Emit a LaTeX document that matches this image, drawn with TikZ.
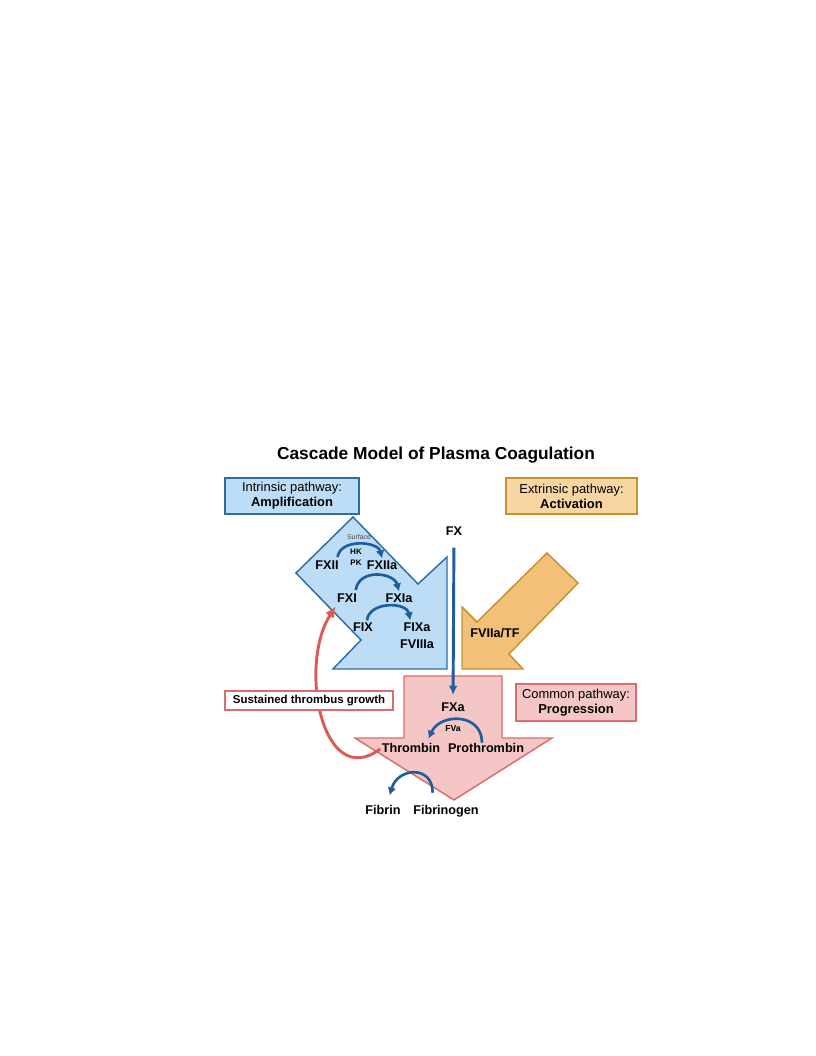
\documentclass[tikz,border=0pt]{standalone}
\usepackage{fontspec}
\setmainfont{Liberation Sans}
\usepackage{tikz}
\usetikzlibrary{arrows.meta}
\definecolor{bluefill}{HTML}{BDDCF5}
\definecolor{blueline}{HTML}{2E6DA4}
\definecolor{orangefill}{HTML}{F2C078}
\definecolor{orangebox}{HTML}{F8D6A4}
\definecolor{orangeline}{HTML}{C8922F}
\definecolor{pinkfill}{HTML}{F4C6C6}
\definecolor{pinkline}{HTML}{DE6B6B}
\definecolor{arrowblue}{HTML}{1F5E9E}
\definecolor{redarrow}{HTML}{DD5A55}

\begin{document}
\begin{tikzpicture}[x=0.75pt,y=-0.75pt,
  lab/.style={font=\fontsize{9.5}{11}\selectfont\bfseries, inner sep=1pt, text height=7pt, text depth=2pt},
  tiny/.style={font=\fontsize{6}{7}\selectfont\bfseries, inner sep=0.5pt},
  arc/.style={arrowblue, line width=2pt, -{Latex[length=6pt,width=6.5pt]}},
  pathbox/.style={draw, line width=1pt, align=center, font=\fontsize{9.7}{11.2}\selectfont, minimum height=27pt, inner sep=2pt}]
\useasboundingbox (0,0) rectangle (816,1056);

\node[font=\fontsize{13}{15}\selectfont\bfseries] (title) at (436,455) {Cascade Model of Plasma Coagulation};

\draw [blueline, fill=bluefill, line width=1.1pt] (353,517)--(418,584)--(447,557)--(447,669)--(333,669)--(361,640)--(296,573)--cycle;
\draw [orangeline, fill=orangefill, line width=1.1pt] (547,553)--(578,583)--(509,654)--(523,669)--(462,669)--(462,607)--(477,622)--cycle;
\draw [pinkline, fill=pinkfill, line width=1.1pt] (404,676)--(502,676)--(502,738)--(552,738)--(454,800)--(355,738)--(404,738)--cycle;

\node[pathbox, blueline, fill=bluefill, text=black, minimum width=100.5pt] (intr) at (292,496) {Intrinsic pathway:\\\textbf{Amplification}};
\node[pathbox, orangeline, fill=orangebox, text=black, minimum width=98.25pt] (extr) at (571.5,496) {Extrinsic pathway:\\\textbf{Activation}};
\node[pathbox, pinkline, fill=pinkfill, text=black, minimum width=90pt, minimum height=27.75pt] (comm) at (576,702.5) {Common pathway:\\\textbf{Progression}};

\node[font=\fontsize{5.2}{6}\selectfont, gray!60!black, inner sep=0.5pt] (surf) at (359,537) {Surface};
\node[tiny] (hk) at (356,552) {HK};
\node[tiny] (pk) at (356,563) {PK};
\node[lab] (fxii) at (327,566) {FXII};
\node[lab] (fxiia) at (382,566) {FXIIa};
\node[lab] (fxi) at (347,599) {FXI};
\node[lab] (fxia) at (399,599) {FXIa};
\node[lab] (fix) at (363,628) {FIX};
\node[lab] (fixa) at (417,628) {FIXa};
\node[lab] (fviiia) at (417,645) {FVIIIa};
\node[lab] (fviia) at (495,634) {FVIIa/TF};

\node[lab] (fx) at (454,532) {FX};
\node[lab] (fxa) at (453,708) {FXa};
\node[tiny, font=\fontsize{6.5}{7}\selectfont\bfseries] (fva) at (453,729) {FVa};
\node[lab] (thr) at (411,749) {Thrombin};
\node[lab] (pro) at (486,749) {Prothrombin};
\node[lab] (fbn) at (383,811) {Fibrin};
\node[lab] (fbg) at (446,811) {Fibrinogen};

\draw [redarrow, line width=2.2pt, -{Latex[length=8pt,width=8pt]}] (thr.west) .. controls (322,792) and (298,665) .. (fxi.south west);
\node[draw=pinkline, fill=white, line width=1pt, font=\fontsize{8.6}{10}\selectfont\bfseries, minimum width=126pt, minimum height=14.25pt, inner sep=1pt] (grow) at (309,700.5) {Sustained thrombus growth};

\draw [arc] ([xshift=-2pt,yshift=1pt]fxii.north east) .. controls +(3,-19) and +(-4,-17) .. (fxiia.north);
\draw [arc] ([xshift=-2pt,yshift=1pt]fxi.north east) .. controls +(3,-22) and +(-5,-19) .. (fxia.north);
\draw [arc] ([xshift=3pt]fix.north) .. controls +(2,-19) and +(-4,-19) .. ([xshift=-5pt]fixa.north);
\draw [arc] ([xshift=-3pt,yshift=-1pt]pro.north) .. controls +(0,-30) and +(12,-26) .. ([xshift=13pt,yshift=2pt]thr.north);
\draw [arc] ([xshift=-10pt,yshift=8pt]fbg.north) .. controls +(0,-28) and +(8,-28) .. ([xshift=5pt,yshift=6pt]fbn.north);
\draw [arrowblue, line width=2.2pt, -{Latex[length=7pt,width=6.5pt]}, shorten <=6pt, shorten >=4pt] (fx) -- (fxa);

\end{tikzpicture}
\end{document}
